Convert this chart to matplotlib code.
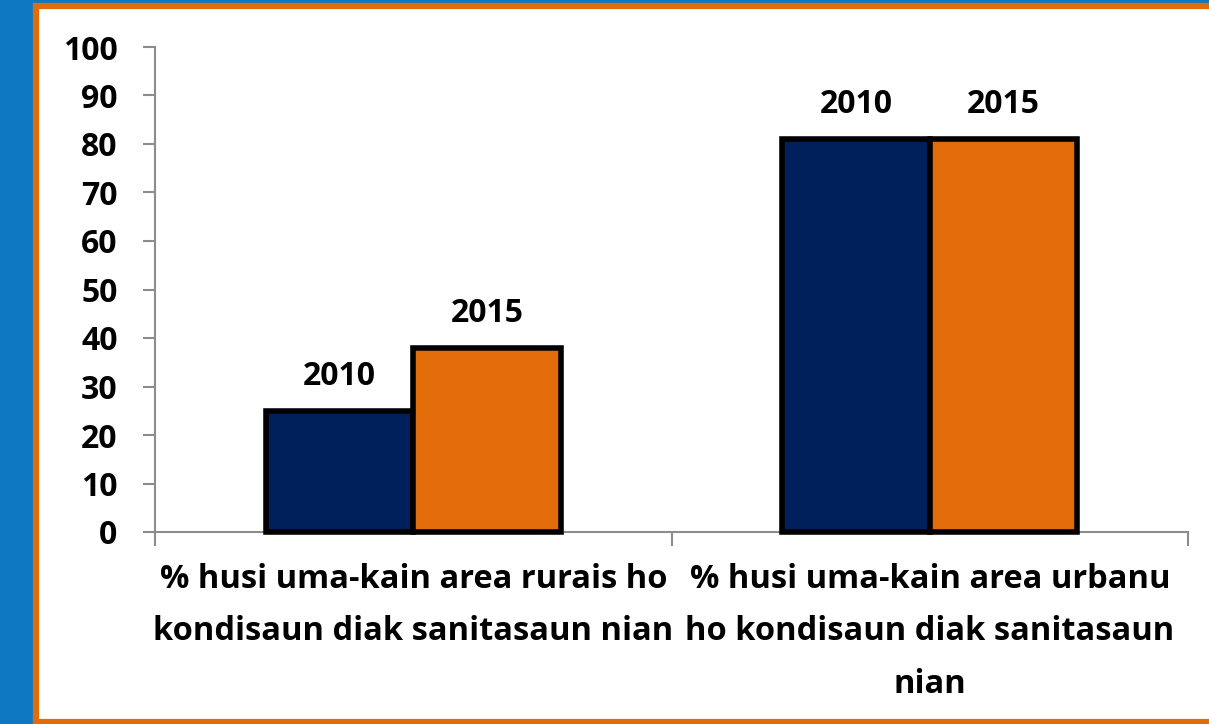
import matplotlib
matplotlib.use("Agg")
import matplotlib.pyplot as plt
from matplotlib.patches import Rectangle
import numpy as np

categories = ["% husi uma-kain area rurais ho\nkondisaun diak sanitasaun nian",
              "% husi uma-kain area urbanu\nho kondisaun diak sanitasaun\nnian"]
series_names = ["2010", "2015"]
values_2010 = [25, 81]
values_2015 = [38, 81]
yticks = [0, 10, 20, 30, 40, 50, 60, 70, 80, 90, 100]

NAVY = "#00205B"
ORANGE = "#E36C0A"
BLUE = "#0E77C2"
FONT = "Open Sans"

W, H = 1209, 724
fig = plt.figure(figsize=(W / 100, H / 100), dpi=100)
fig.patch.set_facecolor(BLUE)
# white panel with orange border
fig.patches.append(Rectangle((36 / W, 1 - 722 / H), (W + 20) / W, (722 - 6) / H,
                             transform=fig.transFigure, facecolor="white",
                             edgecolor=ORANGE, linewidth=4.5, zorder=-5))

ax = fig.add_axes([155 / W, 1 - 532 / H, (1188 - 155) / W, (532 - 47) / H])
ax.set_facecolor("none")
ax.set_zorder(2)

x = np.arange(len(categories))
bw = 0.286
for vals, col, off, name in [(values_2010, NAVY, -bw / 2, series_names[0]),
                             (values_2015, ORANGE, bw / 2, series_names[1])]:
    bars = ax.bar(x + off, vals, width=bw, color=col, edgecolor="black",
                  linewidth=4, zorder=3, clip_on=False)
    for b in bars:
        ax.annotate(name, (b.get_x() + b.get_width() / 2, b.get_height()),
                    xytext=(0, 13), textcoords="offset points", ha="center",
                    va="bottom", fontsize=23, fontweight="bold", family=FONT)

ax.set_xlim(-0.5, 1.5)
ax.set_ylim(0, 100)
ax.set_yticks(yticks)
ax.set_yticklabels([str(t) for t in yticks], fontsize=23, fontweight="bold", family=FONT)
ax.set_xticks([-0.5, 0.5, 1.5])
ax.set_xticklabels([])
ax.set_xticks(x, minor=True)
ax.set_xticklabels(categories, minor=True, fontsize=23.5, fontweight="bold",
                   family=FONT, linespacing=1.78)
ax.tick_params(axis="x", which="minor", length=0, pad=22)
ax.tick_params(axis="x", which="major", length=10, width=1.5, color="#8C8C8C")
ax.tick_params(axis="y", length=9, width=1.5, color="#8C8C8C", pad=18)
for s in ["top", "right"]:
    ax.spines[s].set_visible(False)
for s in ["left", "bottom"]:
    ax.spines[s].set_color("#8C8C8C")
    ax.spines[s].set_linewidth(1.5)

fig.savefig("out.png", dpi=100, facecolor=fig.get_facecolor())
